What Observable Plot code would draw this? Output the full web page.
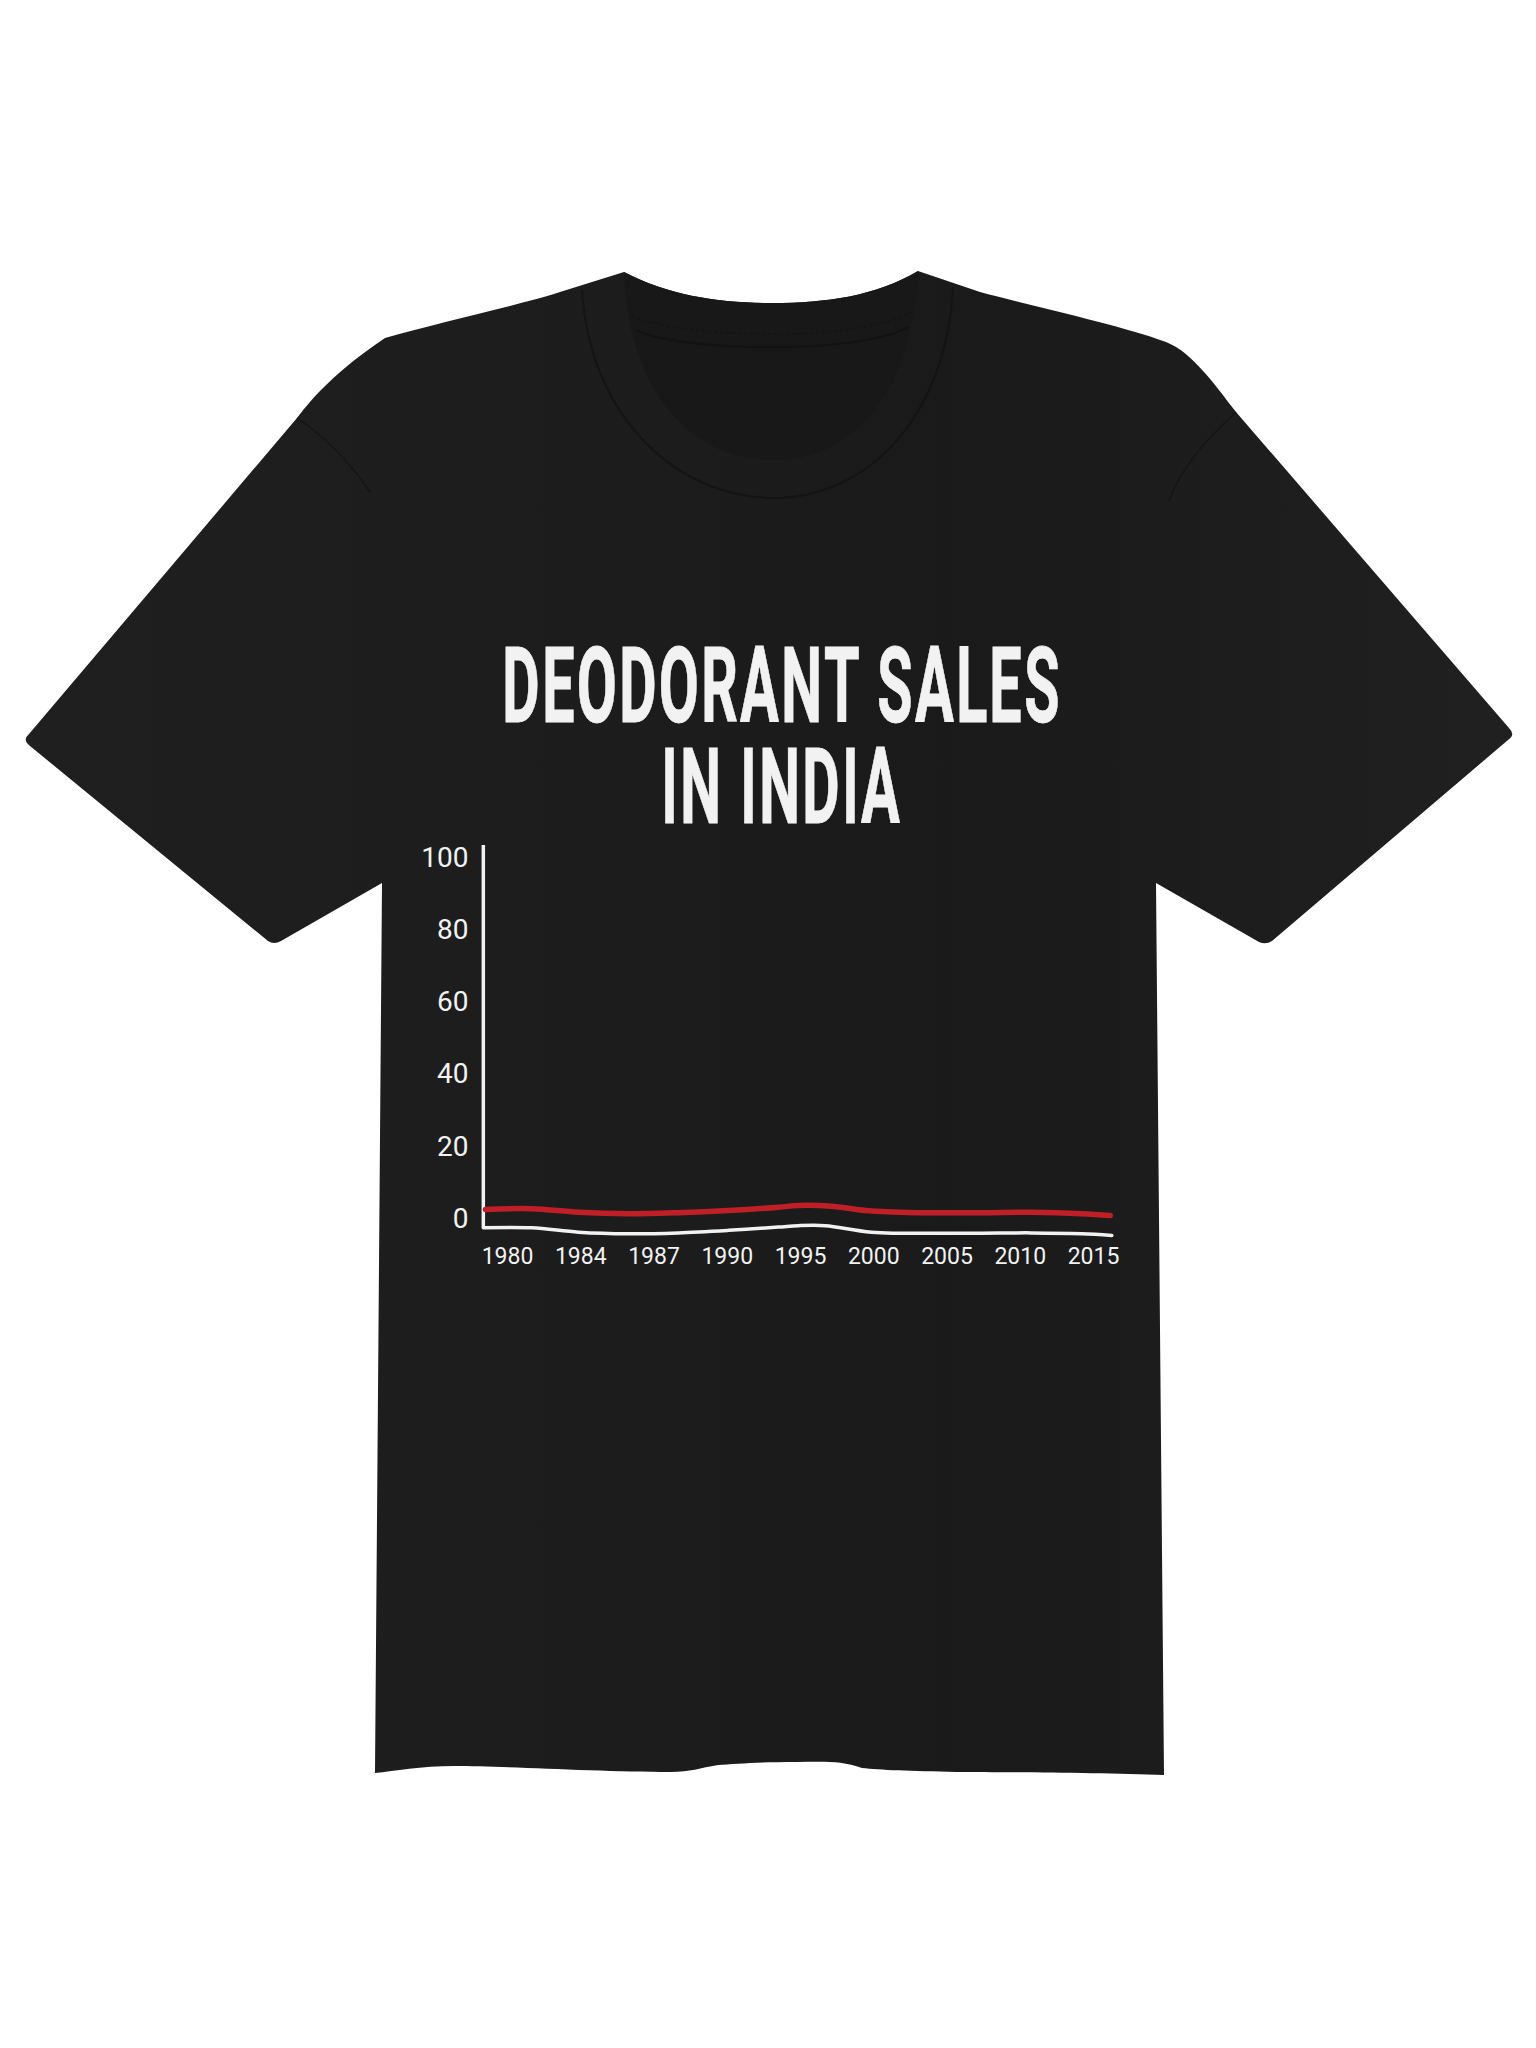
<!DOCTYPE html>
<html>
<head>
<meta charset="utf-8">
<script src="https://cdn.jsdelivr.net/npm/d3@7"></script>
<script src="https://cdn.jsdelivr.net/npm/@observablehq/plot@0.6"></script>
<style>
  @font-face {
    font-family: "TitleFace";
    src: local("Roboto Bold"), local("Roboto-Bold"), local("Roboto");
    font-weight: 700;
    ascent-override: 76%;
    descent-override: 4%;
    line-gap-override: 0%;
  }
  html, body { margin: 0; padding: 0; background: #ffffff; }
  #page { position: relative; width: 1536px; height: 2048px; overflow: hidden; background: #ffffff; }
  #shirt { position: absolute; left: 0; top: 0; }
  #chart { position: absolute; left: 400px; top: 820px; }
  .tline {
    position: absolute; left: 782px; height: 101px; line-height: 101px;
    font-family: "TitleFace", Roboto, "Liberation Sans", sans-serif; font-weight: 700; font-size: 105px;
    color: #f2f2f2; -webkit-text-stroke: 0.8px #f2f2f2; letter-spacing: 4px;
    white-space: nowrap; transform-origin: 50% 50%;
  }
</style>
</head>
<body>
<div id="page">
  <svg id="shirt" width="1536" height="2048" viewBox="0 0 1536 2048">
    <defs>
      <linearGradient id="cloth" x1="0" x2="1" y1="0" y2="0">
        <stop offset="0" stop-color="#1f1f1f"/>
        <stop offset="0.45" stop-color="#1c1c1c"/>
        <stop offset="0.62" stop-color="#1a1a1a"/>
        <stop offset="1" stop-color="#202020"/>
      </linearGradient>
    </defs>
    <path fill="url(#cloth)" d="M 624 272 C 670 296 720 303 773 303 C 826 303 876 296 918 271 L 980 292 C 1040 308 1120 325 1166 342 C 1192 352 1215 385 1236 412 L 1509 728 Q 1516 735 1508 740 L 1272 941 Q 1266 945 1259 942 L 1156 883 L 1164 1775 C 1100 1773 1000 1772 957 1772 C 910 1771 880 1770 862 1768 C 840 1760 820 1762 796 1762 C 760 1762 735 1764 718 1765 C 700 1768 690 1772 671 1772 C 600 1772 500 1766 455 1766 C 420 1766 395 1771 375 1773 L 382 883 L 281 941 Q 274 945 268 941 L 30 746 Q 22 740 29 734 L 297 418 C 315 395 335 372 385 338 C 440 322 520 305 560 292 L 624 272 Z"/>
    <path fill="#181818" d="M 624 272 C 628 390 690 460 773 460 C 856 460 912 390 918 271 C 876 296 826 303 773 303 C 720 303 670 296 624 272 Z"/>
    <path fill="none" stroke="#121212" stroke-width="2" d="M 636 330 C 680 352 860 355 908 327"/>
    <path fill="none" stroke="#141414" stroke-width="1.5" stroke-dasharray="3 3" d="M 632 316 C 690 340 860 342 912 312"/>
    <path fill="none" stroke="#141414" stroke-width="2" d="M 582 290 C 590 420 680 498 773 498 C 866 498 946 420 953 287"/>
    <path fill="none" stroke="#151515" stroke-width="1.5" d="M 297 418 C 330 440 355 470 370 492"/>
    <path fill="none" stroke="#151515" stroke-width="1.5" d="M 1236 412 C 1205 440 1180 470 1169 501"/>
  </svg>
  <div class="tline" id="t1"></div>
  <div class="tline" id="t2"></div>
  <div id="chart"></div>
</div>
<script>
// ---- data ----
const titleLines = ["DEODORANT SALES", "IN INDIA"];
const yearLabels = ["1980", "1984", "1987", "1990", "1995", "2000", "2005", "2010", "2015"];
const yTicks = [0, 20, 40, 60, 80, 100];

// red "sales" line: position along the year-label index, value
const salesPos = [-0.30, 0.33, 0.97, 1.65, 2.33, 3.02, 3.70, 3.97, 4.42, 4.89, 5.57, 6.47, 7.15, 7.84, 8.23];
const sales    = [2.6, 2.8, 1.8, 1.4, 1.7, 2.3, 3.2, 3.7, 3.5, 2.3, 1.7, 1.7, 1.8, 1.4, 0.9];

// hand-drawn white x-axis baseline
const axisPos  = [-0.33, 0.33, 0.97, 1.65, 2.33, 3.02, 3.70, 3.97, 4.34, 4.97, 6.25, 7.15, 7.84, 8.25];
const axisLine = [-2.5, -2.5, -3.7, -4.15, -3.9, -3.2, -2.3, -1.9, -1.9, -3.7, -4.0, -3.9, -4.15, -4.6];

// vertical axis extent (values)
const yAxisTop = 103.4;

// ---- title: two lines; baselines placed from the face metrics, condensed to printed width ----
const t1 = document.getElementById("t1");
const t2 = document.getElementById("t2");
t1.textContent = titleLines[0];
t2.textContent = titleLines[1];
function placeTitle() {
  // measure where the baseline falls inside a line box
  const probe = document.createElement("span");
  probe.style.display = "inline-block";
  probe.style.width = "1px";
  probe.style.height = "0px";
  probe.style.verticalAlign = "baseline";
  t1.appendChild(probe);
  const baseOffset = probe.getBoundingClientRect().top - t1.getBoundingClientRect().top;
  t1.removeChild(probe);
  t1.style.top = (722 - baseOffset) + "px";
  t2.style.top = (823 - baseOffset) + "px";
  const sx = 560 / t1.offsetWidth;
  [t1, t2].forEach(t => { t.style.transform = `translateX(-50%) scaleX(${sx.toFixed(4)})`; });
}
t1.style.top = "0px"; t2.style.top = "0px";
placeTitle();

const salesData = salesPos.map((p, i) => ({pos: p, value: sales[i]}));
const axisData = axisPos.map((p, i) => ({pos: p, value: axisLine[i]}));

const white = "#f2f2f2";
const red = "#c01f27";

const chart = Plot.plot({
  width: 760,
  height: 480,
  margin: 0,
  style: {background: "transparent", overflow: "visible", color: white},
  x: {type: "linear", domain: [0, 8], range: [107, 693], axis: null},
  y: {type: "linear", domain: [0, 100], range: [398.3, 37.2], axis: null},
  marks: [
    Plot.ruleX([axisPos[0]], {x: d => d, y1: axisLine[0], y2: yAxisTop, stroke: white, strokeWidth: 3.5}),
    Plot.line(axisData, {x: "pos", y: "value", stroke: white, strokeWidth: 3.5, curve: "catmull-rom"}),
    Plot.line(salesData, {x: "pos", y: "value", stroke: red, strokeWidth: 5.5, curve: "catmull-rom", strokeLinecap: "round"}),
    Plot.text(yTicks, {
      ariaLabel: "ylabels",
      y: d => d, frameAnchor: "left", dx: 68, text: d => String(d),
      textAnchor: "end", lineAnchor: "middle", fill: white,
      fontSize: 28, fontFamily: "Roboto, sans-serif"
    }),
    Plot.text(yearLabels, {
      ariaLabel: "xlabels",
      x: (d, i) => i, frameAnchor: "top", dy: 436, text: d => d,
      textAnchor: "middle", lineAnchor: "middle", fill: white,
      fontSize: 23, fontFamily: "Roboto, sans-serif"
    })
  ]
});

document.getElementById("chart").appendChild(chart);

// condense tick label glyphs to match the narrow lettering
function condense(selector, factor) {
  chart.querySelectorAll(selector).forEach(t => {
    const len = t.getComputedTextLength();
    t.setAttribute("textLength", (len * factor).toFixed(2));
    t.setAttribute("lengthAdjust", "spacingAndGlyphs");
  });
}
condense('g[aria-label="ylabels"] text', 0.8);
condense('g[aria-label="xlabels"] text', 0.74);
</script>
</body>
</html>
